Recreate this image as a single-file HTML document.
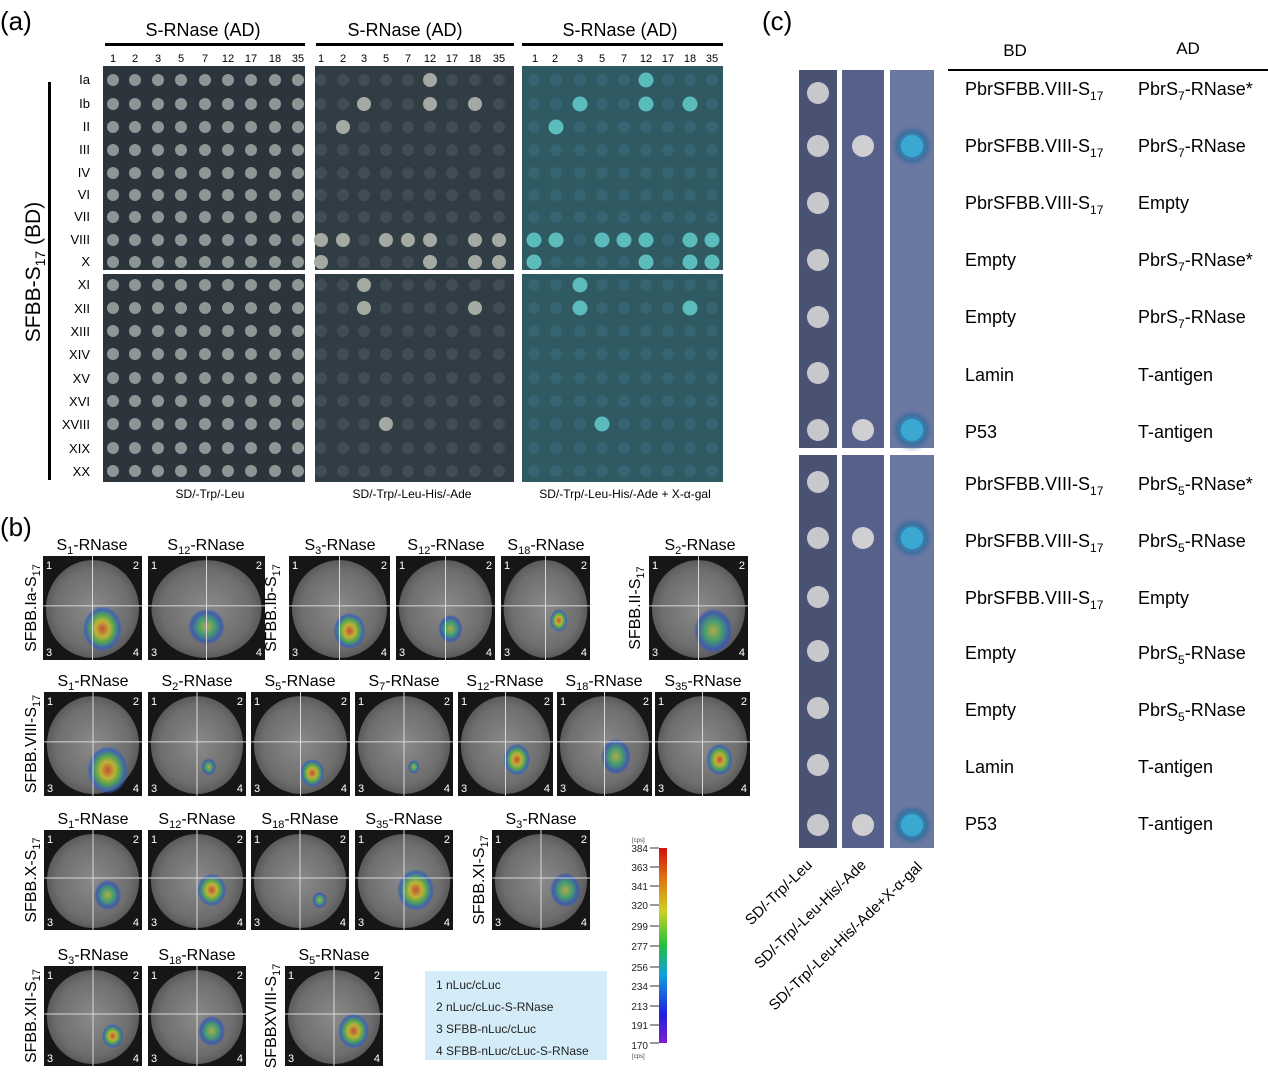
<!DOCTYPE html>
<html><head><meta charset="utf-8">
<style>
html,body{margin:0;padding:0;background:#fff;}
svg{display:block;font-family:"Liberation Sans","DejaVu Sans",sans-serif;}
</style></head>
<body>
<svg id="s" width="1268" height="1074" viewBox="0 0 1268 1074" xmlns="http://www.w3.org/2000/svg">
<defs>
<radialGradient id="blob"><stop offset="0" stop-color="#c84a2a"/><stop offset="0.35" stop-color="#c8b830"/><stop offset="0.6" stop-color="#50a850"/><stop offset="0.85" stop-color="#3a60b8"/><stop offset="1" stop-color="#3a60b8" stop-opacity="0"/></radialGradient>
<radialGradient id="blob2"><stop offset="0" stop-color="#b8b040"/><stop offset="0.45" stop-color="#40a070"/><stop offset="0.8" stop-color="#3a58b0"/><stop offset="1" stop-color="#3a58b0" stop-opacity="0"/></radialGradient>
<radialGradient id="glow"><stop offset="0" stop-color="#40b0d8"/><stop offset="0.45" stop-color="#2a90c0"/><stop offset="0.7" stop-color="#2a6898" stop-opacity="0.6"/><stop offset="1" stop-color="#6a78a0" stop-opacity="0"/></radialGradient>
<radialGradient id="leafg"><stop offset="0" stop-color="#8a8a8a"/><stop offset="0.8" stop-color="#6e6e6e"/><stop offset="1" stop-color="#5a5a5a"/></radialGradient>
<linearGradient id="cbar" x1="0" y1="1" x2="0" y2="0"><stop offset="0" stop-color="#7a20d0"/><stop offset="0.15" stop-color="#2020e0"/><stop offset="0.35" stop-color="#10a0e0"/><stop offset="0.5" stop-color="#20c040"/><stop offset="0.68" stop-color="#d0d020"/><stop offset="0.85" stop-color="#e07010"/><stop offset="1" stop-color="#d01010"/></linearGradient>
</defs>
<g id="plates"></g>
<g id="leaves"></g>

<text x="0" y="30" font-size="26">(a)</text>
<g font-size="18" text-anchor="middle">
<text x="203" y="36">S-RNase (AD)</text>
<text x="405" y="36">S-RNase (AD)</text>
<text x="620" y="36">S-RNase (AD)</text>
</g>
<rect x="105" y="43" width="200" height="3" fill="#000"/>
<rect x="316" y="43" width="198" height="3" fill="#000"/>
<rect x="522" y="43" width="201" height="3" fill="#000"/>
<g font-size="11" text-anchor="middle">
<text x="113" y="62">1</text><text x="135" y="62">2</text><text x="158" y="62">3</text><text x="181" y="62">5</text><text x="205" y="62">7</text><text x="228" y="62">12</text><text x="251" y="62">17</text><text x="275" y="62">18</text><text x="298" y="62">35</text>
<text x="321" y="62">1</text><text x="343" y="62">2</text><text x="364" y="62">3</text><text x="386" y="62">5</text><text x="408" y="62">7</text><text x="430" y="62">12</text><text x="452" y="62">17</text><text x="475" y="62">18</text><text x="499" y="62">35</text>
<text x="535" y="62">1</text><text x="555" y="62">2</text><text x="580" y="62">3</text><text x="602" y="62">5</text><text x="624" y="62">7</text><text x="646" y="62">12</text><text x="668" y="62">17</text><text x="690" y="62">18</text><text x="712" y="62">35</text>
</g>
<rect x="48" y="82" width="3" height="398" fill="#000"/>
<text transform="translate(40,272) rotate(-90)" font-size="21" text-anchor="middle">SFBB-S<tspan font-size="14" dy="5">17</tspan><tspan dy="-5"> (BD)</tspan></text>
<g font-size="13" text-anchor="end">
<text x="90" y="84">Ia</text><text x="90" y="108">Ib</text><text x="90" y="131">II</text><text x="90" y="154">III</text><text x="90" y="177">IV</text><text x="90" y="199">VI</text><text x="90" y="221">VII</text><text x="90" y="244">VIII</text><text x="90" y="266">X</text>
<text x="90" y="289">XI</text><text x="90" y="313">XII</text><text x="90" y="336">XIII</text><text x="90" y="359">XIV</text><text x="90" y="383">XV</text><text x="90" y="406">XVI</text><text x="90" y="429">XVIII</text><text x="90" y="453">XIX</text><text x="90" y="476">XX</text>
</g>
<g font-size="12" text-anchor="middle">
<text x="210" y="498">SD/-Trp/-Leu</text>
<text x="412" y="498">SD/-Trp/-Leu-His/-Ade</text>
<text x="625" y="498">SD/-Trp/-Leu-His/-Ade + X-α-gal</text>
</g>

<text x="0" y="536" font-size="26">(b)</text>
<g font-size="16" text-anchor="middle">
<text x="92" y="550">S<tspan font-size="11" dy="4">1</tspan><tspan dy="-4">-RNase</tspan></text>
<text x="206" y="550">S<tspan font-size="11" dy="4">12</tspan><tspan dy="-4">-RNase</tspan></text>
<text x="340" y="550">S<tspan font-size="11" dy="4">3</tspan><tspan dy="-4">-RNase</tspan></text>
<text x="446" y="550">S<tspan font-size="11" dy="4">12</tspan><tspan dy="-4">-RNase</tspan></text>
<text x="546" y="550">S<tspan font-size="11" dy="4">18</tspan><tspan dy="-4">-RNase</tspan></text>
<text x="700" y="550">S<tspan font-size="11" dy="4">2</tspan><tspan dy="-4">-RNase</tspan></text>
<text x="93" y="686">S<tspan font-size="11" dy="4">1</tspan><tspan dy="-4">-RNase</tspan></text>
<text x="197" y="686">S<tspan font-size="11" dy="4">2</tspan><tspan dy="-4">-RNase</tspan></text>
<text x="300" y="686">S<tspan font-size="11" dy="4">5</tspan><tspan dy="-4">-RNase</tspan></text>
<text x="404" y="686">S<tspan font-size="11" dy="4">7</tspan><tspan dy="-4">-RNase</tspan></text>
<text x="505" y="686">S<tspan font-size="11" dy="4">12</tspan><tspan dy="-4">-RNase</tspan></text>
<text x="604" y="686">S<tspan font-size="11" dy="4">18</tspan><tspan dy="-4">-RNase</tspan></text>
<text x="703" y="686">S<tspan font-size="11" dy="4">35</tspan><tspan dy="-4">-RNase</tspan></text>
<text x="93" y="824">S<tspan font-size="11" dy="4">1</tspan><tspan dy="-4">-RNase</tspan></text>
<text x="197" y="824">S<tspan font-size="11" dy="4">12</tspan><tspan dy="-4">-RNase</tspan></text>
<text x="300" y="824">S<tspan font-size="11" dy="4">18</tspan><tspan dy="-4">-RNase</tspan></text>
<text x="404" y="824">S<tspan font-size="11" dy="4">35</tspan><tspan dy="-4">-RNase</tspan></text>
<text x="541" y="824">S<tspan font-size="11" dy="4">3</tspan><tspan dy="-4">-RNase</tspan></text>
<text x="93" y="960">S<tspan font-size="11" dy="4">3</tspan><tspan dy="-4">-RNase</tspan></text>
<text x="197" y="960">S<tspan font-size="11" dy="4">18</tspan><tspan dy="-4">-RNase</tspan></text>
<text x="334" y="960">S<tspan font-size="11" dy="4">5</tspan><tspan dy="-4">-RNase</tspan></text>
</g>
<g font-size="16" text-anchor="middle">
<text transform="translate(36,608) rotate(-90)">SFBB.Ia-S<tspan font-size="11" dy="4">17</tspan></text>
<text transform="translate(276,608) rotate(-90)">SFBB.Ib-S<tspan font-size="11" dy="4">17</tspan></text>
<text transform="translate(640,608) rotate(-90)">SFBB.II-S<tspan font-size="11" dy="4">17</tspan></text>
<text transform="translate(36,744) rotate(-90)">SFBB.VIII-S<tspan font-size="11" dy="4">17</tspan></text>
<text transform="translate(36,880) rotate(-90)">SFBB.X-S<tspan font-size="11" dy="4">17</tspan></text>
<text transform="translate(484,880) rotate(-90)">SFBB.XI-S<tspan font-size="11" dy="4">17</tspan></text>
<text transform="translate(36,1016) rotate(-90)">SFBB.XII-S<tspan font-size="11" dy="4">17</tspan></text>
<text transform="translate(276,1016) rotate(-90)">SFBBXVIII-S<tspan font-size="11" dy="4">17</tspan></text>
</g>
<rect x="659" y="848" width="8" height="195" fill="url(#cbar)"/>
<g font-size="10" text-anchor="end" fill="#222">
<text x="648" y="852">384</text><text x="648" y="871">363</text><text x="648" y="890">341</text><text x="648" y="909">320</text><text x="648" y="930">299</text><text x="648" y="950">277</text><text x="648" y="971">256</text><text x="648" y="990">234</text><text x="648" y="1010">213</text><text x="648" y="1029">191</text><text x="648" y="1049">170</text>
</g>
<g stroke="#333" stroke-width="1">
<line x1="650" y1="848" x2="659" y2="848"/><line x1="650" y1="867" x2="659" y2="867"/><line x1="650" y1="886" x2="659" y2="886"/><line x1="650" y1="905" x2="659" y2="905"/><line x1="650" y1="926" x2="659" y2="926"/><line x1="650" y1="946" x2="659" y2="946"/><line x1="650" y1="967" x2="659" y2="967"/><line x1="650" y1="986" x2="659" y2="986"/><line x1="650" y1="1006" x2="659" y2="1006"/><line x1="650" y1="1025" x2="659" y2="1025"/><line x1="650" y1="1043" x2="659" y2="1043"/>
</g>
<text x="632" y="842" font-size="6" fill="#444">[cps]</text>
<text x="632" y="1058" font-size="6" fill="#444">[cps]</text>
<rect x="425" y="971" width="182" height="89" fill="#d4ecf7"/>
<g font-size="12" fill="#222">
<text x="436" y="989">1 nLuc/cLuc</text>
<text x="436" y="1011">2 nLuc/cLuc-S-RNase</text>
<text x="436" y="1033">3 SFBB-nLuc/cLuc</text>
<text x="436" y="1055">4 SFBB-nLuc/cLuc-S-RNase</text>
</g>

<text x="762" y="30" font-size="26">(c)</text>
<rect x="799" y="70" width="38" height="378" fill="#4a5274"/>
<rect x="842" y="70" width="42" height="378" fill="#56608a"/>
<rect x="890" y="70" width="44" height="378" fill="#6a78a2"/>
<rect x="799" y="455" width="38" height="393" fill="#4a5274"/>
<rect x="842" y="455" width="42" height="393" fill="#56608a"/>
<rect x="890" y="455" width="44" height="393" fill="#6a78a2"/>
<g id="cdots"></g>
<text x="1015" y="56" font-size="17" text-anchor="middle">BD</text>
<text x="1188" y="54" font-size="17" text-anchor="middle">AD</text>
<rect x="948" y="69" width="320" height="2" fill="#000"/>
<g font-size="18">
<text x="965" y="95">PbrSFBB.VIII-S<tspan font-size="12" dy="5">17</tspan></text><text x="1138" y="95">PbrS<tspan font-size="12" dy="5">7</tspan><tspan dy="-5">-RNase*</tspan></text>
<text x="965" y="152">PbrSFBB.VIII-S<tspan font-size="12" dy="5">17</tspan></text><text x="1138" y="152">PbrS<tspan font-size="12" dy="5">7</tspan><tspan dy="-5">-RNase</tspan></text>
<text x="965" y="209">PbrSFBB.VIII-S<tspan font-size="12" dy="5">17</tspan></text><text x="1138" y="209">Empty</text>
<text x="965" y="266">Empty</text><text x="1138" y="266">PbrS<tspan font-size="12" dy="5">7</tspan><tspan dy="-5">-RNase*</tspan></text>
<text x="965" y="323">Empty</text><text x="1138" y="323">PbrS<tspan font-size="12" dy="5">7</tspan><tspan dy="-5">-RNase</tspan></text>
<text x="965" y="381">Lamin</text><text x="1138" y="381">T-antigen</text>
<text x="965" y="438">P53</text><text x="1138" y="438">T-antigen</text>
<text x="965" y="490">PbrSFBB.VIII-S<tspan font-size="12" dy="5">17</tspan></text><text x="1138" y="490">PbrS<tspan font-size="12" dy="5">5</tspan><tspan dy="-5">-RNase*</tspan></text>
<text x="965" y="547">PbrSFBB.VIII-S<tspan font-size="12" dy="5">17</tspan></text><text x="1138" y="547">PbrS<tspan font-size="12" dy="5">5</tspan><tspan dy="-5">-RNase</tspan></text>
<text x="965" y="604">PbrSFBB.VIII-S<tspan font-size="12" dy="5">17</tspan></text><text x="1138" y="604">Empty</text>
<text x="965" y="659">Empty</text><text x="1138" y="659">PbrS<tspan font-size="12" dy="5">5</tspan><tspan dy="-5">-RNase</tspan></text>
<text x="965" y="716">Empty</text><text x="1138" y="716">PbrS<tspan font-size="12" dy="5">5</tspan><tspan dy="-5">-RNase</tspan></text>
<text x="965" y="773">Lamin</text><text x="1138" y="773">T-antigen</text>
<text x="965" y="830">P53</text><text x="1138" y="830">T-antigen</text>
</g>
<g font-size="15" text-anchor="end">
<text transform="translate(813,866) rotate(-44)">SD/-Trp/-Leu</text>
<text transform="translate(867,866) rotate(-44)">SD/-Trp/-Leu-His/-Ade</text>
<text transform="translate(923,868) rotate(-44)">SD/-Trp/-Leu-His/-Ade+X-α-gal</text>
</g>
</svg>
<script>
var NS="http://www.w3.org/2000/svg";
function el(p,t,a){var e=document.createElementNS(NS,t);for(var k in a)e.setAttribute(k,a[k]);p.appendChild(e);return e;}
var P=document.getElementById("plates");
var rowsT=[80,104,127,150,173,195,217,240,262], rowsB=[285,308,331,354,378,401,424,448,471];
var colsets=[[113,135,158,181,205,228,251,275,298],[321,343,364,386,408,430,452,475,499],[534,556,580,602,624,646,668,690,712]];
var plates=[[103,305],[315,514],[522,723]];
var bg=["#2b353b","#313d45","#2f5a62"];
var brightT={0:[5],1:[2,5,7],2:[1],7:[0,1,3,4,5,7,8],8:[0,5,7,8]};
var brightB={0:[2],1:[2,7],6:[3]};
for(var p=0;p<3;p++){
 [[66,270,rowsT,brightT],[274,482,rowsB,brightB]].forEach(function(h){
  el(P,"rect",{x:plates[p][0],y:h[0],width:plates[p][1]-plates[p][0],height:h[1]-h[0],fill:bg[p]});
  h[2].forEach(function(y,ri){colsets[p].forEach(function(x,ci){
   var br=h[3][ri]&&h[3][ri].indexOf(ci)>=0;
   var f,r=6;
   if(p==0){f="#8e9695";}
   else if(p==1){f=br?"#a4aaa2":"#414d56";if(br)r=7;}
   else{f=br?"#5cbcbc":"#356572";if(br)r=7.5;}
   el(P,"circle",{cx:x,cy:y,r:r,fill:f});
  });});
 });
}
var L=document.getElementById("leaves");
var leaves=[
[43,556,99,104,0.6,0.7,0.4],[148,556,117,104,0.5,0.68,0.32],[289,556,101,104,0.6,0.72,0.32],[396,556,99,104,0.55,0.7,0.25],[501,556,89,104,0.65,0.62,0.2],[649,556,99,104,0.65,0.72,0.4],
[44,692,98,104,0.65,0.75,0.42],[148,692,98,104,0.62,0.72,0.15],[251,692,99,104,0.62,0.78,0.25],[355,692,98,104,0.6,0.72,0.12],[458,692,95,104,0.62,0.65,0.28],[557,692,95,104,0.62,0.62,0.32],[655,692,95,104,0.68,0.65,0.28],
[44,830,98,100,0.65,0.65,0.28],[148,830,98,100,0.65,0.6,0.3],[251,830,98,100,0.7,0.7,0.15],[355,830,98,100,0.62,0.6,0.38],[492,830,98,100,0.75,0.6,0.32],
[44,966,98,100,0.7,0.7,0.22],[148,966,98,100,0.65,0.65,0.28],[285,966,98,100,0.7,0.65,0.32]];
leaves.forEach(function(l,i){
 var x=l[0],y=l[1],w=l[2],h=l[3];
 el(L,"rect",{x:x,y:y,width:w,height:h,fill:"#161616"});
 el(L,"ellipse",{cx:x+w/2,cy:y+h/2+1,rx:w*0.47,ry:h*0.47,fill:"url(#leafg)"});
 el(L,"ellipse",{cx:x+w*l[4],cy:y+h*l[5],rx:w*l[6]*0.5,ry:h*l[6]*0.55,fill:(i%2?"url(#blob2)":"url(#blob)"),opacity:0.9});
 el(L,"line",{x1:x+w/2,y1:y,x2:x+w/2,y2:y+h,stroke:"#d8d8d8","stroke-width":1});
 el(L,"line",{x1:x,y1:y+h*0.48,x2:x+w,y2:y+h*0.48,stroke:"#d8d8d8","stroke-width":1});
 var n=["1","2","3","4"],pos=[[x+3,y+13,"start"],[x+w-3,y+13,"end"],[x+3,y+h-4,"start"],[x+w-3,y+h-4,"end"]];
 for(var k=0;k<4;k++){var t=el(L,"text",{x:pos[k][0],y:pos[k][1],"font-size":11,fill:"#fff","text-anchor":pos[k][2]});t.textContent=n[k];}
});
var C=document.getElementById("cdots");
var cy=[93,146,203,260,317,373,430,482,538,597,651,708,765,825];
var pos=[1,6,8,13];
cy.forEach(function(y,i){
 el(C,"circle",{cx:818,cy:y,r:11,fill:"#c8c8cc"});
 if(pos.indexOf(i)>=0){
  el(C,"circle",{cx:863,cy:y,r:11,fill:"#cfcfd2"});
  el(C,"circle",{cx:912,cy:y,r:22,fill:"url(#glow)"});
  el(C,"circle",{cx:912,cy:y,r:11,fill:"#3aa8d0"});
 }
});
</script>
</body></html>
